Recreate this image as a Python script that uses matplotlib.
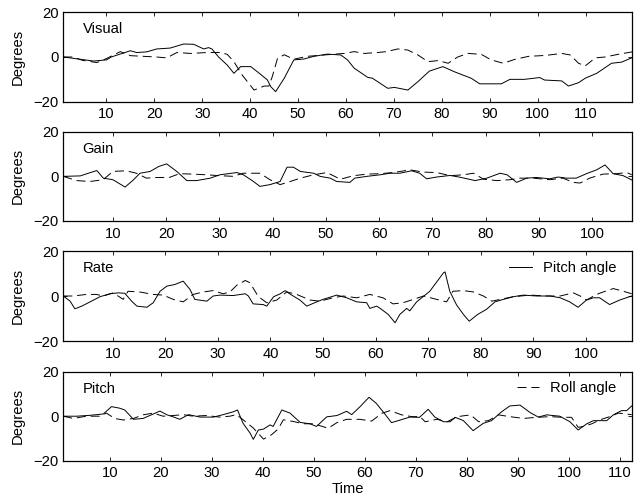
import matplotlib
matplotlib.use("Agg")
import matplotlib.pyplot as plt
from matplotlib.ticker import MultipleLocator

plt.rcParams['font.family'] = ['Liberation Sans', 'DejaVu Sans']
plt.rcParams['font.size'] = 10.6
plt.rcParams['lines.scale_dashes'] = False

# ---- data (time, degrees) ----
# Visual
visual_t = [1, 7.3, 10, 11, 15, 16.3, 18.4, 20.5, 23.3, 26.1, 28.2, 30.3, 31.3, 32, 33.4, 35.2,
            36.6, 38, 40.1, 41.5, 43.6, 44.3, 45.3, 47.1, 49.1, 51.2, 53.3, 56.1, 58.9, 60.3,
            61.7, 64.5, 65.5, 68.7, 70.1, 72.9, 75, 77.4, 80.2, 82.6, 86.1, 87.9, 92.4, 94.2,
            97.2, 100.4, 101.4, 105, 106.4, 108.5, 109.9, 112.3, 115.4, 117.5, 120]
visual_pitch = [0, -1.8, -1.3, 0, 2.8, 2, 2.3, 3.6, 4, 5.8, 5.7, 3.6, 4.2, 3.6, 0, -3.6,
                -7.3, -4.3, -4.3, -6.6, -10.3, -13.3, -15.5, -9.5, -1.3, -0.9, 0.3, 1.3, 0.9, -1.3,
                -5, -9.1, -9.5, -14, -13.6, -14.8, -11, -6.3, -4.3, -6.6, -9.5, -12, -12, -10,
                -10, -9.2, -10.3, -10.7, -13, -11.5, -9.5, -7.3, -2.8, -2.3, 0]
visual_rt = [1, 3, 5, 8, 10, 12.9, 15, 17.7, 20.5, 22.6, 24.7, 27.5, 31, 33.8, 35.2, 36.6,
             38.3, 40.8, 42.9, 43.9, 44.6, 45.7, 47.1, 49.1, 51.9, 56, 59.6, 61.7, 63.8, 66.6,
             68.4, 70.8, 72.9, 75, 77.1, 79.2, 81.3, 83.3, 85.4, 88.2, 90.3, 92.8, 95.3, 98.1,
             101.6, 105, 106.8, 108.5, 109.9, 112, 114, 116.8, 120]
visual_roll = [0, 0, -1.5, -2.5, -0.7, 2.4, 0.6, 0.3, 0, -0.4, 2, 1.6, 2, 2, 1.2, -2.1,
               -8, -14.8, -13, -13, -8.8, -0.6, 1, -1, 0.3, 1, 1.6, 2.4, 1.6, 2,
               2.4, 3.6, 3.1, 0.9, -2.1, -1.6, -2.8, 0, 1.6, 1.2, -1.3, -2.8, -1, 0.3,
               0.7, 1.6, 0.9, -2.8, -4, -0.4, 0, 1.2, 2.4]

# Gain
gain_t = [0.7, 3.9, 5.4, 7, 8.2, 10, 12.3, 13.9, 15.1, 17, 18.6, 20.1, 22, 23.9, 25.7, 28.3,
          30.1, 33.3, 34.5, 36.4, 37.6, 39.5, 41.4, 42.7, 43.9, 45.2, 47.7, 48.9, 50.8, 52,
          54.5, 55.4, 57.7, 60.2, 62, 63.9, 66.1, 67.6, 68.9, 70.8, 73.3, 75.2, 78, 80.2,
          82.7, 84, 85.8, 87.7, 89.5, 92, 93.6, 95.1, 97, 98.9, 100.8, 102.4, 103.9, 105.8, 107.4]
gain_pitch = [0, 0.2, 1.4, 2.6, -0.8, -1.5, -4.8, -1.5, 1.4, 2.2, 4.4, 5.6, 2.2, -1.9, -1.9, -0.8,
              0.7, 1.7, 0.7, -2.3, -4.5, -3.7, -2.3, 4.1, 4.1, 2.2, 1.4, 0, -0.8, -2.3,
              -2.7, -0.8, 0, 0.7, 1.4, 1.4, 2.5, 1.4, -1.1, -0.3, 0.4, -0.4, -1.9, -0.8,
              1.4, 0.7, -2.7, -0.8, -0.5, -1.1, -0.3, -0.8, -0.8, 1.2, 2.9, 5.1, 1.2, 0.3, -1.6]
gain_rt = [0.7, 3.2, 5.7, 8.2, 10, 12.5, 14.4, 16.3, 18.1, 20.6, 22.5, 25, 27.5, 30.1, 32.6,
           34.5, 37.6, 39.5, 41.4, 43.3, 45.2, 47.7, 50.2, 52.7, 55.2, 57.7, 60.2, 62.6, 65.8,
           68.3, 70.8, 73.3, 75.8, 77.7, 79.6, 82.1, 84.6, 86.4, 88.9, 92, 94.5, 96.4, 97.7,
           99.5, 102, 104.6, 106.5, 107.4]
gain_roll = [0, -1.9, -2.3, -1.5, 2.2, 2.5, 1.4, -0.8, -0.5, -0.5, 1.2, 1, 0.7, 0.3, 0,
             1.4, 1.4, -1.5, -3.7, -2.3, -0.8, 0.7, 1.7, -1.3, 0.3, 1, 1.2, 1.7, 2.9,
             1.9, 1.7, 0.3, 0.7, 1.4, -1.3, -1.9, -1.5, -0.8, -0.8, -1.5, -0.8, -2.7, -3,
             -0.8, 1, 1.2, 1.7, 0.7]

# Rate
rate_t = [0.6, 1.9, 2.8, 4.1, 5.7, 7.6, 9.5, 11.1, 12.3, 13.6, 14.6, 16.5, 17.7, 19, 20.3, 21.8,
          23.4, 24.7, 25.6, 27.9, 29.1, 30.4, 32.9, 35.2, 35.8, 36.7, 38.6, 39.3, 40.6, 41.8,
          42.8, 43.7, 45.6, 46.9, 48.8, 50, 52.6, 54.5, 56.4, 58.3, 58.9, 60.2, 61.1, 62.4,
          63.7, 64.6, 65.9, 66.5, 67.8, 70.3, 72.9, 73.2, 74.1, 75.4, 76.7, 77.8, 79.4, 81.1,
          82.7, 84.3, 86.2, 88.1, 90.6, 93.2, 95.1, 96.9, 98.5, 100.1, 101.4, 102.6, 104.5,
          106.4, 108.7]
rate_pitch = [0, -2.3, -5.7, -4.5, -2.6, -0.3, 1, 1.4, 1.2, -2.3, -4.5, -5, -3, 2.1, 4.4, 5.1,
              6.6, 2.9, -1.5, -2.3, 0, 0.4, 0.2, 1, 0, -3.5, -3.8, -4.5, -0.3, 0.9,
              2.4, 0.9, -1.8, -4.5, -2.6, -1.5, 0.4, -0.8, -2.6, -3, -5.5, -4.5, -5.9, -8.2,
              -11.9, -8.2, -5.5, -6.6, -2.6, 2.1, 10.3, 10.7, 2.1, -4, -8.2, -11.2, -8.2, -5.9,
              -2.6, -1.5, -0.3, 0.4, 0, 0, -0.8, -2.6, -5, -1.8, -0.8, -0.8, -3.8,
              -1.8, 0]
rate_rt = [0.6, 2.5, 5, 6.9, 8.2, 10.1, 12, 12.9, 15.1, 17.7, 19.6, 21.5, 23.4, 25.3, 27.2,
           29.1, 31, 32.3, 33.6, 35.2, 36.1, 37.7, 39.3, 41.2, 43.1, 45, 47.5, 49.4, 51.9,
           53.8, 56.4, 58.9, 61.4, 63.3, 65.2, 67.2, 69.1, 71.6, 73.5, 74.7, 76.7, 78.6, 80.5,
           82.1, 83.7, 86.2, 89.4, 92.5, 95.1, 97.6, 98.9, 100.1, 102, 103.3, 105.2, 107.1, 108.7]
rate_roll = [0, 0, 0.7, 0.7, 0, 1.4, -1.5, 2.1, 1.8, 0.7, 0.4, -1.5, -2.6, 0.7, 1.8,
             2.4, 1, 1.8, 4.8, 6.9, 5.9, -0.3, -3, -1.8, 1.8, 0.7, -1.8, -2.3, -0.8,
             0, -0.8, 0.7, -0.8, -3.5, -3, -1.5, 0, -1.5, -2.6, 2.1, 2.4, 1.8, 0,
             -2.3, -1.5, -0.3, 0.4, 0, 0, 1.4, 0, -1.8, 0.7, 1.8, 3.3, 2.1, 1]

# Pitch
pitch_t = [0.85, 3.5, 6.1, 8.7, 10.3, 11.9, 12.9, 14.6, 16.5, 18.5, 19.8, 21.1, 22.4, 23.7,
           25.4, 27.7, 30.3, 32.2, 34.2, 35, 36.1, 37.5, 38.1, 39.1, 40.1, 41.4, 42, 43.7,
           45.3, 47.3, 49.2, 50.5, 52.5, 54.5, 56.4, 57.4, 59, 60.8, 62.2, 63.9, 65.2, 66.8,
           68.8, 70.7, 72.4, 73.7, 75.4, 76.7, 77.7, 79.3, 81.2, 83.2, 84.8, 86.8, 88.4, 90.4,
           92.4, 94, 95.6, 98.2, 100.2, 101.8, 103.5, 104.8, 107.4, 108.7, 110.3, 111.3, 112.3]
pitch_pitch = [0, 0, 0.4, 1, 4.3, 3.6, 2.8, -1.4, -1, 1, 2.3, 0.7, -0.3, -1.4,
               0.7, -0.4, -0.4, 0.7, 2, 2.8, -3.2, -7.7, -10.4, -6.2, -5.8, -3.9, -4.6, 2.8,
               1.4, -2.8, -3.4, -4.6, -0.3, 0.3, 2.2, 0.7, 4.2, 8.5, 5.8, 1, -2.9, -1.8,
               -0.4, -0.5, 3.1, -0.4, -2.5, -2.5, -0.5, -2, -6.5, -3.2, -2, 2, 4.6, 5,
               1.6, -0.4, 0.6, 0, -2.5, -6.2, -3.4, -2, -2, 0.6, 2.5, 2.5, 4.6]
pitch_rt = [0.85, 2.8, 5.4, 8, 9.3, 10.9, 12.6, 14.6, 16.5, 18.5, 20.4, 22.4, 24.3, 26.3,
            28.9, 31.5, 33.5, 34.8, 36.1, 38.1, 40.1, 41.7, 43, 44, 46, 47.9, 49.9, 51.2,
            52.8, 54.5, 56.4, 59, 61.3, 63.3, 64.9, 67.2, 69.2, 70.8, 71.8, 74.1, 76.1, 78.1,
            80.7, 82.3, 84.2, 86.2, 88.4, 91.1, 93.7, 96.3, 98.9, 100.5, 101.8, 102.8, 104.5,
            106.1, 108, 109.7, 112.3]
pitch_roll = [0, -1, 0, 0, 1.4, -1, -1.7, -1, 0.6, 1.4, 0, 0.3, 0.7, 0,
              0.3, -0.4, 0, 0.7, -1.6, -5.3, -10.3, -8.3, -5.7, -1.6, -2.4, -3.4, -3.4, -4.3,
              -5.4, -2.9, -1.4, -1.4, -2.2, 1.3, 2.5, 0.6, -0.2, -0.2, -2.5, -1.4, -2.5, -0.2,
              0.6, -2.5, -2, 0.6, -0.2, -1, -0.5, -0.2, -0.5, -0.5, -5, -4.6, -3.4,
              -1.6, -0.2, 1.4, 0.7]

panels = [
    ("Visual", visual_t, visual_pitch, visual_rt, visual_roll, (1, 119.6)),
    ("Gain", gain_t, gain_pitch, gain_rt, gain_roll, (0.7, 107.4)),
    ("Rate", rate_t, rate_pitch, rate_rt, rate_roll, (0.6, 108.7)),
    ("Pitch", pitch_t, pitch_pitch, pitch_rt, pitch_roll, (0.85, 112.3)),
]

boxes = [(12.3, 101.7), (131.7, 221.0), (251.0, 341.0), (371.7, 460.7)]
W, H = 641, 497
left, right = 63.3, 631.7

fig = plt.figure(figsize=(6.41, 4.97), dpi=100)

for i, (name, t, p, rt, r, xl) in enumerate(panels):
    top, bot = boxes[i]
    ax = fig.add_axes([left / W, 1 - bot / H, (right - left) / W, (bot - top) / H])
    lp, = ax.plot(t, p, color='black', lw=0.7, label='Pitch angle')
    lr, = ax.plot(rt, r, color='black', lw=0.7, linestyle=(0, (6.5, 3.5)), label='Roll angle')
    ax.set_xlim(*xl)
    ax.set_ylim(-20, 20)
    ax.set_yticks([-20, 0, 20])
    ax.xaxis.set_major_locator(MultipleLocator(10))
    ax.tick_params(direction='in', top=True, right=True, length=3, width=0.6)
    ax.tick_params(axis='x', pad=4)
    ax.tick_params(axis='y', pad=3.5)
    for s in ax.spines.values():
        s.set_linewidth(0.9)
    ax.set_ylabel('Degrees')
    ax.yaxis.set_label_coords(-0.067, 0.5)
    ax.text(0.034, 0.81, name, transform=ax.transAxes, va='center', ha='left')
    if i == 2:
        ax.legend(handles=[lp], loc='center right', bbox_to_anchor=(0.984, 0.808),
                  frameon=False, handlelength=1.55, borderaxespad=0, handletextpad=0.75)
    if i == 3:
        ax.legend(handles=[lr], loc='center right', bbox_to_anchor=(0.984, 0.813),
                  frameon=False, handlelength=1.55, borderaxespad=0, handletextpad=0.75)
        ax.set_xlabel('Time')
        ax.xaxis.set_label_coords(0.5, -0.24)

fig.savefig('out.png', dpi=100)
